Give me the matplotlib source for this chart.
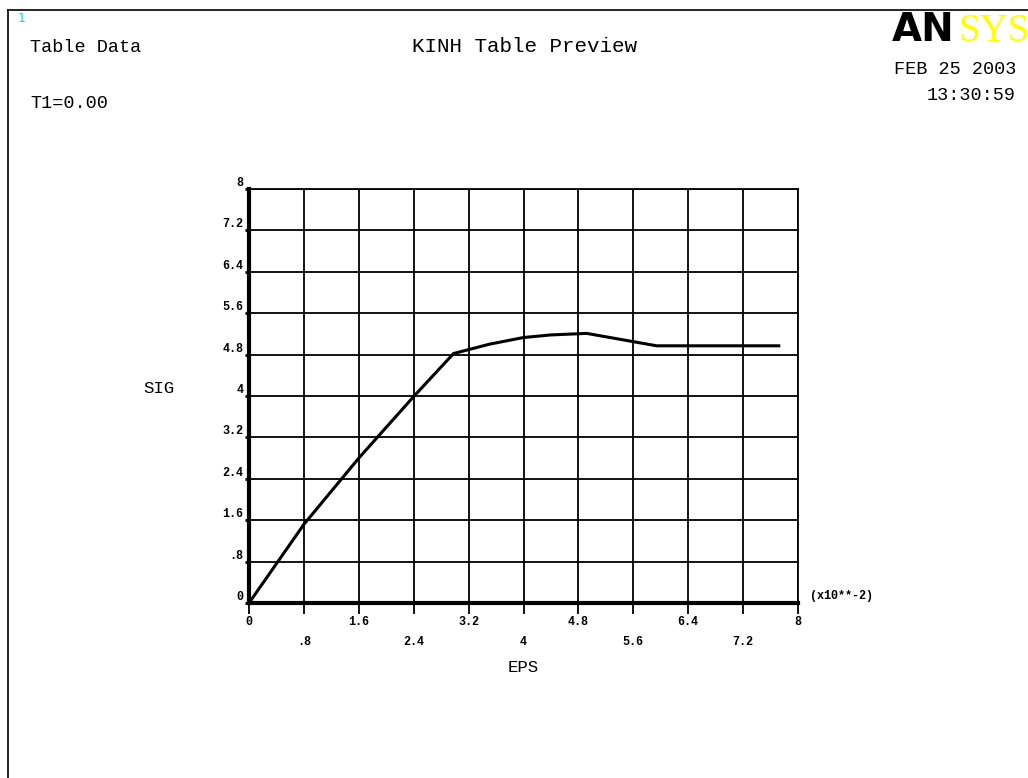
import matplotlib
matplotlib.use("Agg")
import matplotlib.pyplot as plt
from matplotlib.lines import Line2D

# table data
eps = [0.0, 0.8, 1.6, 2.4, 2.98, 3.5, 4.0, 4.4, 4.92, 5.94, 7.72]
sig = [0.0, 1.52, 2.8, 3.99, 4.82, 5.0, 5.13, 5.18, 5.21, 4.97, 4.97]

ticks = [0, 0.8, 1.6, 2.4, 3.2, 4.0, 4.8, 5.6, 6.4, 7.2, 8.0]
tick_labels = ["0", ".8", "1.6", "2.4", "3.2", "4", "4.8", "5.6", "6.4", "7.2", "8"]

mono = "Liberation Mono"

fig = plt.figure(figsize=(10.28, 7.78), dpi=100)
W, H = 1028, 778

def fx(px):
    return px / W

def fy(py):
    return 1 - py / H

# window frame
fig.add_artist(Line2D([fx(8), fx(8)], [fy(10), 0], color="black", lw=1.2))
fig.add_artist(Line2D([fx(8), 1], [fy(10), fy(10)], color="black", lw=1.2))

ax = fig.add_axes([fx(249), fy(603), fx(798) - fx(249), fy(189) - fy(603)])
ax.plot(eps, sig, color="black", lw=2.2, solid_joinstyle="miter")
ax.set_xlim(0, 8)
ax.set_ylim(0, 8)
ax.set_xticks(ticks)
ax.set_yticks(ticks)
ax.grid(True, color="black", lw=1.3)
ax.set_axisbelow(True)
for s in ["top", "right"]:
    ax.spines[s].set_linewidth(1.3)
for s in ["left", "bottom"]:
    ax.spines[s].set_linewidth(3.0)

ax.tick_params(axis="x", direction="out", length=8, width=1.3, labelbottom=False)
ax.tick_params(axis="y", direction="out", length=3, width=2, labelleft=False)

# y tick labels
for t, lab in zip(ticks, tick_labels):
    ax.text(-0.08, t, lab, ha="right", va="bottom", fontsize=8.5, family=mono,
            fontweight="bold", transform=ax.transData)

# x tick labels in two staggered rows
for i, (t, lab) in enumerate(zip(ticks, tick_labels)):
    py = 622 if i % 2 == 0 else 642
    fig.text(fx(249 + t * 68.6), fy(py), lab, ha="center", va="center",
             fontsize=8.5, family=mono, fontweight="bold")

fig.text(fx(523), fy(667), "EPS", ha="center", va="center", fontsize=12.5, family=mono)
fig.text(fx(159), fy(388), "SIG", ha="center", va="center", fontsize=12.5, family=mono)
fig.text(fx(810), fy(596), "(x10**-2)", ha="left", va="center", fontsize=8.5,
         family=mono, fontweight="bold")

# header texts
fig.text(fx(18), fy(19), "1", ha="left", va="center", fontsize=9, color="#00e0e0",
         family="DejaVu Sans")
fig.text(fx(30), fy(47), "Table Data", ha="left", va="center", fontsize=13.3, family=mono)
fig.text(fx(30), fy(103), "T1=0.00", ha="left", va="center", fontsize=13.3, family=mono)
fig.text(fx(524), fy(47), "KINH Table Preview", ha="center", va="center", fontsize=15,
         family=mono)
fig.text(fx(1016), fy(70), "FEB 25 2003", ha="right", va="center", fontsize=13.3, family=mono)
fig.text(fx(1016), fy(95), "13:30:59", ha="right", va="center", fontsize=13.3, family=mono)

# logo
fig.text(fx(892), fy(41), "AN", ha="left", va="baseline", fontsize=28, fontweight="heavy",
         family="DejaVu Sans", color="black")
fig.text(fx(958), fy(41), "SYS", ha="left", va="baseline", fontsize=28,
         family="Liberation Serif", color="#ffff00")

fig.savefig("out.png", dpi=100)
